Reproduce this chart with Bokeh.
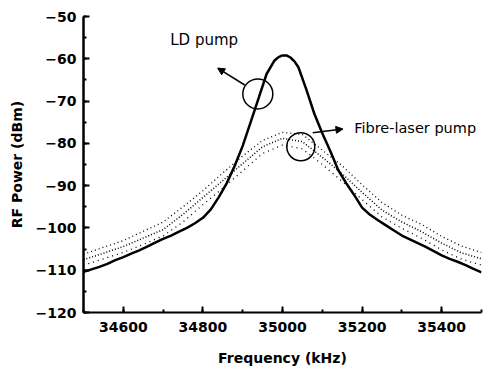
from bokeh.plotting import figure
from bokeh.models import FixedTicker, Label, Arrow, NormalHead, Range1d
from bokeh.embed import file_html
from bokeh.resources import INLINE

# ---- data ----
ld_freq = [34500, 34520, 34540, 34560, 34580, 34600, 34620, 34640, 34660, 34680,
           34700, 34720, 34740, 34760, 34780, 34800, 34820, 34840, 34860, 34880,
           34900, 34920, 34940, 34960, 34980, 34990, 35000, 35010, 35020, 35030, 35040, 35060,
           35080, 35100, 35120, 35140, 35160, 35180, 35200, 35220, 35240, 35260,
           35280, 35300, 35320, 35340, 35360, 35380, 35400, 35420, 35440, 35460,
           35480, 35500]
ld_power = [-110.4, -109.8, -109.2, -108.5, -107.6, -106.9, -106.1, -105.3, -104.4, -103.5,
            -102.6, -101.8, -100.9, -100.0, -98.9, -97.6, -95.6, -92.7, -89.4, -85.3,
            -80.6, -75.0, -69.3, -63.6, -60.4, -59.6, -59.2, -59.2, -59.7, -60.6, -62.0, -67.3,
            -73.0, -77.6, -81.8, -86.3, -89.4, -92.2, -95.2, -96.9, -98.2, -99.4,
            -100.6, -101.8, -102.7, -103.6, -104.5, -105.5, -106.5, -107.3, -108.0, -108.8,
            -109.7, -110.5]

fl_freq = [34500, 34550, 34600, 34650, 34700, 34750, 34800, 34850, 34900, 34950,
           35000, 35050, 35100, 35150, 35200, 35250, 35300, 35350, 35400, 35450, 35500]
fl_mid = [-107.5, -106.0, -104.4, -102.4, -100.4, -96.8, -92.8, -88.8, -84.8, -80.8,
          -78.8, -79.6, -83.3, -87.2, -91.6, -95.8, -98.6, -100.9, -103.6, -105.9, -107.3]
fl_upper = [-106.2, -104.6, -103.0, -100.8, -98.6, -95.0, -91.2, -87.0, -83.0, -79.3,
            -77.4, -77.9, -81.6, -85.3, -89.8, -94.0, -97.0, -99.2, -102.0, -104.3, -105.8]
fl_lower = [-108.8, -107.3, -105.8, -103.9, -101.9, -98.6, -94.5, -90.6, -86.5, -82.4,
            -80.4, -81.3, -85.0, -89.0, -93.3, -97.4, -100.1, -102.5, -105.2, -107.4, -108.8]

x_ticks = [34600, 34800, 35000, 35200, 35400]
x_minor = [34500, 34600, 34700, 34800, 34900, 35000, 35100, 35200, 35300, 35400, 35500]
y_ticks = [-120, -110, -100, -90, -80, -70, -60, -50]
y_minor = [-120, -115, -110, -105, -100, -95, -90, -85, -80, -75, -70, -65, -60, -55, -50]

FONT = "DejaVu Sans"

p = figure(width=486, height=369, output_backend="svg", toolbar_location=None,
           x_range=Range1d(34500, 35500), y_range=Range1d(-120, -50),
           min_border_left=83, min_border_right=5, min_border_top=16, min_border_bottom=57,
           x_axis_label="Frequency (kHz)", y_axis_label="RF Power (dBm)")
p.outline_line_color = None
p.grid.visible = False
p.background_fill_color = "white"
p.border_fill_color = "white"

p.xaxis.ticker = FixedTicker(ticks=x_ticks, minor_ticks=x_minor)
p.yaxis.ticker = FixedTicker(ticks=y_ticks, minor_ticks=y_minor)

for ax in (p.xaxis[0], p.yaxis[0]):
    ax.axis_line_color = "black"
    ax.major_tick_line_color = "black"
    ax.minor_tick_line_color = "black"
    ax.major_tick_in = 6
    ax.major_tick_out = 0
    ax.minor_tick_in = 3
    ax.minor_tick_out = 0
    ax.major_tick_line_width = 2
    ax.minor_tick_line_width = 2
    ax.major_label_text_font = FONT
    ax.major_label_text_font_style = "bold"
    ax.major_label_text_font_size = "14px"
    ax.major_label_text_color = "black"
    ax.axis_label_text_font = FONT
    ax.axis_label_text_font_style = "bold"
    ax.axis_label_text_font_size = "14px"
    ax.axis_label_text_color = "black"

p.xaxis.axis_line_width = 2
p.yaxis.axis_line_width = 2.5
p.xaxis.major_label_standoff = 9
p.yaxis.major_label_standoff = 7
p.xaxis.axis_label_standoff = 15
p.yaxis.axis_label_standoff = 8

# fibre-laser pumped trace (scattered dots)
p.line(fl_freq, fl_upper, line_color="black", line_width=1.3, line_dash="1 3")
p.line(fl_freq, fl_mid, line_color="black", line_width=1.5, line_dash="1 2")
p.line(fl_freq, fl_lower, line_color="black", line_width=1.3, line_dash="1 4")

# LD pumped trace (solid)
p.line(ld_freq, ld_power, line_color="black", line_width=2.5)

# circles marking the traces
circ_x = [34938, 35046]
circ_y = [-68.3, -80.8]
circ_size = [30, 28]
p.scatter(circ_x, circ_y, size=circ_size, marker="circle", fill_color=None,
          line_color="black", line_width=1.5)

# arrows
p.add_layout(Arrow(x_start=34905, y_start=-66.2, x_end=34837, y_end=-62.2,
                   line_color="black", line_width=1.5,
                   end=NormalHead(size=7, fill_color="black", line_color="black")))
p.add_layout(Arrow(x_start=35076, y_start=-77.5, x_end=35152, y_end=-76.6,
                   line_color="black", line_width=1.5,
                   end=NormalHead(size=7, fill_color="black", line_color="black")))

p.add_layout(Label(x=34718, y=-55.6, text="LD pump", text_font=FONT,
                   text_font_size="15px", text_baseline="middle", text_color="black"))
p.add_layout(Label(x=35180, y=-76.3, text="Fibre-laser pump", text_font=FONT,
                   text_font_size="14.5px", text_baseline="middle", text_color="black"))

open("out.html", "w").write(file_html(p, INLINE))
